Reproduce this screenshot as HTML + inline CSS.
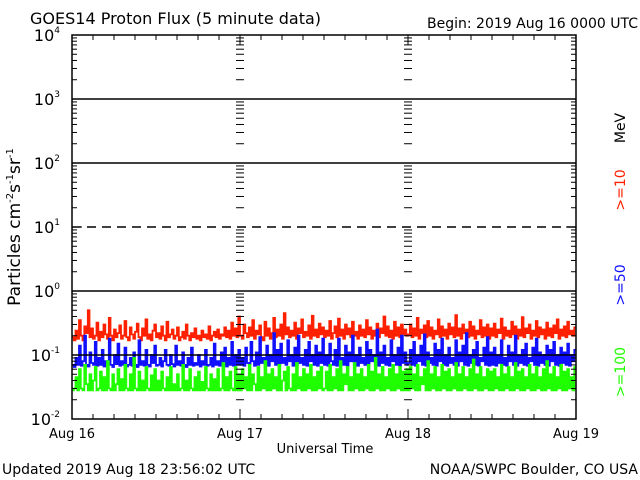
<!DOCTYPE html>
<html><head><meta charset="utf-8"><style>
body{margin:0;background:#fff;width:640px;height:480px;overflow:hidden}
svg{display:block;font-family:"DejaVu Sans","Liberation Sans",sans-serif}
</style></head><body>
<svg id="c" width="640" height="480">
<text x="30" y="24" font-size="16">GOES14 Proton Flux (5 minute data)</text>
<text x="638" y="28" font-size="14" text-anchor="end">Begin: 2019 Aug 16 0000 UTC</text>
<text transform="translate(20,227) rotate(-90)" font-size="17" text-anchor="middle">Particles cm<tspan font-size="10" dy="-7">-2</tspan><tspan dy="7">s</tspan><tspan font-size="10" dy="-7">-1</tspan><tspan dy="7">sr</tspan><tspan font-size="10" dy="-7">-1</tspan></text>
<text transform="translate(625,128) rotate(-90)" font-size="14" text-anchor="middle" fill="#000">MeV</text>
<text transform="translate(625,190) rotate(-90)" font-size="14" text-anchor="middle" fill="#ff2000">&gt;=10</text>
<text transform="translate(625,285) rotate(-90)" font-size="14" text-anchor="middle" fill="#1010ff">&gt;=50</text>
<text transform="translate(625,372) rotate(-90)" font-size="14" text-anchor="middle" fill="#20ff00">&gt;=100</text>
<text x="325" y="453" font-size="13" text-anchor="middle">Universal Time</text>
<text x="2" y="474" font-size="14">Updated 2019 Aug 18 23:56:02 UTC</text>
<text x="638" y="474" font-size="14" text-anchor="end">NOAA/SWPC Boulder, CO USA</text>
<g id="plot"></g>
</svg>
<script>
const dayLabels=["Aug 16","Aug 17","Aug 18","Aug 19"];
const decades=[-2,-1,0,1,2,3,4];
const red=[.19,.17,.24,.18,.35,.2,.17,.28,.22,.5,.19,.26,.18,.2,.32,.17,.23,.19,.3,.21,.18,.38,.2,.17,.25,.19,.22,.29,.18,.2,.34,.19,.17,.27,.21,.18,.23,.31,.19,.17,.26,.2,.36,.18,.21,.17,.24,.3,
.19,.22,.18,.28,.2,.17,.33,.19,.21,.25,.18,.2,.27,.17,.19,.23,.18,.3,.2,.17,.22,.19,.26,.18,.2,.17,.24,.19,.21,.18,.28,.17,.2,.23,.19,.25,.18,.21,.2,.27,.19,.24,.18,.32,.2,.26,.19,.4,
.2,.18,.3,.22,.19,.27,.2,.35,.18,.24,.21,.29,.19,.17,.33,.2,.26,.18,.22,.38,.19,.25,.2,.3,.18,.45,.21,.27,.19,.24,.2,.32,.18,.26,.22,.36,.19,.23,.2,.29,.18,.41,.2,.25,.19,.31,.21,.27,
.19,.24,.2,.34,.18,.22,.28,.19,.37,.2,.25,.18,.3,.21,.26,.19,.33,.2,.23,.18,.29,.2,.25,.19,.35,.21,.27,.18,.24,.2,.31,.19,.26,.22,.4,.2,.28,.19,.24,.18,.33,.2,.27,.19,.3,.21,.25,.2,
.21,.3,.19,.26,.2,.38,.18,.25,.22,.29,.19,.34,.2,.27,.18,.24,.21,.36,.19,.28,.2,.25,.18,.31,.21,.27,.19,.42,.2,.26,.18,.3,.22,.25,.19,.33,.2,.28,.18,.24,.21,.35,.19,.27,.2,.3,.18,.26,
.2,.31,.19,.25,.22,.37,.18,.27,.2,.24,.19,.33,.21,.28,.18,.25,.2,.39,.19,.26,.22,.3,.18,.24,.2,.34,.19,.27,.21,.25,.18,.32,.2,.26,.19,.29,.22,.36,.18,.25,.2,.28,.19,.33,.21,.24,.2,.27];
const blue=[.07,.065,.09,.07,.14,.068,.08,.2,.07,.066,.11,.075,.07,.16,.068,.09,.07,.12,.066,.08,.07,.18,.07,.065,.1,.072,.15,.068,.08,.07,.13,.066,.07,.09,.068,.11,.07,.065,.17,.07,.08,.068,.12,.07,.066,.1,.075,.14,
.068,.07,.09,.066,.08,.12,.07,.068,.1,.072,.066,.14,.07,.08,.068,.11,.07,.065,.09,.07,.13,.068,.075,.07,.1,.066,.08,.07,.12,.068,.07,.09,.066,.15,.07,.08,.068,.11,.07,.13,.066,.09,.07,.16,.068,.1,.07,.12,
.07,.09,.068,.13,.075,.07,.16,.08,.068,.11,.07,.19,.075,.09,.07,.14,.068,.1,.08,.22,.07,.12,.068,.15,.075,.09,.07,.17,.08,.1,.068,.13,.07,.2,.075,.09,.07,.12,.068,.16,.08,.1,.07,.14,.068,.11,.075,.18,
.07,.1,.068,.15,.08,.07,.12,.068,.18,.075,.09,.07,.14,.068,.11,.08,.2,.07,.1,.068,.13,.075,.09,.07,.16,.068,.12,.08,.1,.07,.25,.068,.11,.075,.14,.07,.09,.068,.17,.08,.1,.07,.13,.068,.2,.075,.11,.07,
.075,.12,.07,.16,.068,.1,.08,.14,.07,.21,.068,.11,.075,.09,.07,.15,.068,.12,.08,.18,.07,.1,.068,.13,.075,.09,.07,.17,.068,.11,.08,.14,.07,.22,.068,.1,.075,.12,.07,.16,.068,.09,.08,.13,.07,.19,.068,.11,
.07,.13,.068,.1,.075,.17,.07,.09,.068,.14,.08,.11,.07,.2,.068,.1,.075,.12,.07,.15,.068,.09,.08,.13,.07,.18,.068,.11,.075,.1,.07,.14,.068,.12,.08,.16,.07,.1,.068,.13,.075,.11,.07,.15,.068,.1,.08,.12];
const green=[.028,.03,.045,.028,.06,.03,.028,.07,.035,.028,.05,.028,.04,.065,.028,.03,.055,.028,.045,.028,.08,.03,.028,.05,.028,.035,.06,.028,.042,.028,.07,.03,.028,.05,.028,.09,.03,.028,.055,.028,.04,.028,.065,.03,.028,.048,.028,.06,
.028,.04,.028,.055,.03,.028,.045,.028,.065,.028,.035,.028,.05,.028,.03,.07,.028,.04,.028,.06,.03,.028,.045,.028,.055,.028,.038,.028,.065,.03,.028,.05,.028,.042,.028,.06,.028,.03,.075,.028,.045,.028,.055,.03,.028,.065,.028,.05,
.028,.06,.03,.045,.028,.07,.028,.05,.035,.028,.065,.028,.045,.03,.08,.028,.05,.028,.06,.03,.045,.028,.07,.028,.04,.055,.028,.065,.03,.028,.05,.028,.075,.03,.045,.028,.06,.028,.05,.03,.07,.028,.045,.028,.055,.03,.065,.028,
.03,.055,.028,.07,.028,.045,.03,.06,.028,.08,.028,.05,.035,.065,.028,.045,.028,.075,.03,.05,.028,.06,.028,.045,.03,.07,.028,.055,.028,.09,.03,.05,.028,.065,.028,.045,.03,.06,.028,.07,.028,.05,.03,.065,.028,.055,.028,.06,
.028,.065,.03,.05,.028,.07,.028,.045,.035,.06,.028,.08,.028,.05,.03,.065,.028,.045,.028,.07,.03,.055,.028,.06,.028,.045,.03,.075,.028,.05,.028,.065,.03,.045,.028,.06,.028,.085,.03,.05,.028,.065,.028,.045,.03,.06,.028,.055,
.028,.06,.03,.045,.028,.07,.028,.05,.03,.065,.028,.045,.028,.075,.03,.055,.028,.06,.028,.045,.03,.07,.028,.05,.028,.065,.03,.045,.028,.06,.028,.08,.03,.05,.028,.065,.028,.045,.03,.07,.028,.055,.028,.06,.03,.045,.028,.065];
const X0=72,X1=576,Y0=419,PD=64;
const xs=d=>X0+(X1-X0)*d/3;
const ys=v=>Y0-(Math.log10(v)+2)*PD;
const NS='http://www.w3.org/2000/svg';
const g=document.getElementById('plot');
function el(t,a){const e=document.createElementNS(NS,t);for(const k in a)e.setAttribute(k,a[k]);g.appendChild(e);return e;}
function series(arr,col,name){
  const w=(X1-X0)/arr.length;let d='';
  arr.forEach((v,i)=>{const x=X0+i*w,y=ys(v);d+=(i?'L':'M')+x.toFixed(1)+' '+y.toFixed(1)+'L'+(x+w).toFixed(1)+' '+y.toFixed(1);});
  const p=el('path',{d:d,fill:'none',stroke:col,'stroke-width':1.8});
  
  
}
series(red,'#ff2000','series-10mev');
series(blue,'#1010ff','series-50mev');
series(green,'#20ff00','series-100mev');
decades.forEach(k=>{
  if(k===-2||k===4)return;
  const y=ys(Math.pow(10,k));
  const l=el('line',{x1:X0,x2:X1,y1:y,y2:y,stroke:'#000','stroke-width':1.5});
  if(k===1)l.setAttribute('stroke-dasharray','9 6');
  
  
});
decades.forEach(k=>{
  if(k===4)return;
  for(let m=2;m<=9;m++){
    const y=ys(m*Math.pow(10,k));
    el('line',{x1:X0,x2:X0+5,y1:y,y2:y,stroke:'#000'});
    el('line',{x1:X1-5,x2:X1,y1:y,y2:y,stroke:'#000'});
    [1,2].forEach(d=>el('line',{x1:xs(d)-4,x2:xs(d)+4,y1:y,y2:y,stroke:'#000'}));
  }
  const y=ys(Math.pow(10,k));
  el('line',{x1:X0,x2:X0+10,y1:y,y2:y,stroke:'#000'});
  el('line',{x1:X1-10,x2:X1,y1:y,y2:y,stroke:'#000'});
});
for(let i=1;i<24;i++){
  const x=X0+(X1-X0)*i/24,len=(i%8===0)?10:5;
  el('line',{x1:x,x2:x,y1:Y0,y2:Y0-len,stroke:'#000'});
  el('line',{x1:x,x2:x,y1:35,y2:35+len,stroke:'#000'});
}
const fr=el('rect',{x:X0,y:35,width:X1-X0,height:Y0-35,fill:'none',stroke:'#000','stroke-width':1.5});


decades.forEach(k=>{
  const t=el('text',{x:60,y:ys(Math.pow(10,k))+6,'font-size':16,'text-anchor':'end'});
  t.innerHTML='10<tspan font-size="9" dy="-8">'+k+'</tspan>';
  
  
});
dayLabels.forEach((s,i)=>{
  const t=el('text',{x:xs(i),y:438,'font-size':13,'text-anchor':'middle'});
  t.textContent=s;
  
  
});
</script>
</body></html>
